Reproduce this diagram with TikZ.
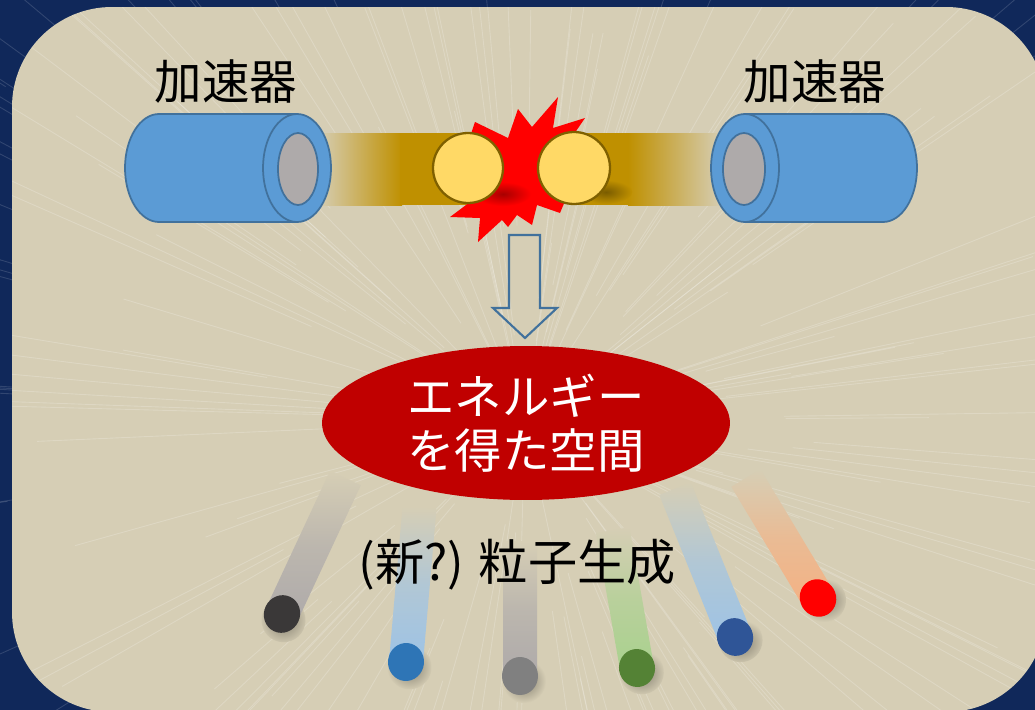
\documentclass[tikz,border=0pt]{standalone}
\usepackage{fontspec}
\setmainfont{Noto Sans CJK JP}
\usetikzlibrary{shapes.geometric}

\definecolor{nightblue}{HTML}{10285A}
\definecolor{deskbeige}{HTML}{D6CEB5}
\definecolor{tubeblue}{HTML}{5B9BD5}
\definecolor{tubeedge}{HTML}{41719C}
\definecolor{boregray}{HTML}{AEAAAA}
\definecolor{beamgold}{HTML}{BF9000}
\definecolor{beamshadow}{HTML}{7A5C00}
\definecolor{ballyellow}{HTML}{FFD966}
\definecolor{balledge}{HTML}{7F6000}
\definecolor{burstred}{HTML}{FF0000}
\definecolor{burstdark}{HTML}{A80000}
\definecolor{spacered}{HTML}{C00000}
\definecolor{trailgray}{HTML}{AEAAAA}
\definecolor{trailblue}{HTML}{9DC3E6}
\definecolor{trailgreen}{HTML}{A9D18E}
\definecolor{trailorange}{HTML}{F4B183}
\definecolor{dotblack}{HTML}{3A3838}
\definecolor{dotblue}{HTML}{2E75B6}
\definecolor{dotgray}{HTML}{808080}
\definecolor{dotgreen}{HTML}{548235}
\definecolor{dotnavy}{HTML}{2F5597}
\definecolor{dotred}{HTML}{FF0000}

\newcommand\bigjp{\fontsize{27}{31}\selectfont}

\tikzset{
	tubeline/.style={draw=tubeedge, line width=1pt},
	ball/.style={fill=ballyellow, draw=balledge, line width=1.3pt},
	streak/.style={white, line width=0.5pt},
	jplabel/.style={font=\bigjp, inner sep=0pt},
}

\begin{document}
\begin{tikzpicture}[x=0.02cm, y=-0.02cm]
	\useasboundingbox (0,0) rectangle (1035,710);
	\fill[nightblue] (0,0) rectangle (1035,710);
	\pgfmathsetseed{41}
	\foreach \i in {1,...,160}{
		\pgfmathsetmacro{\ang}{rnd*360}
		\pgfmathsetmacro{\ra}{400+rnd*250}
		\pgfmathsetmacro{\len}{100+rnd*350}
		\draw[streak, opacity=0.14] (525,420) ++(\ang:\ra) -- ++(\ang:\len);
	}
	% table top
	\fill[deskbeige, rounded corners=2cm] (12,7) rectangle (1046,712);
	\begin{scope}
		\clip[rounded corners=2cm] (12,7) rectangle (1046,712);
		\foreach \i in {1,...,170}{
			\pgfmathsetmacro{\ang}{rnd*360}
			\pgfmathsetmacro{\ra}{40+rnd*250}
			\pgfmathsetmacro{\len}{120+rnd*450}
			\draw[streak, opacity=0.2] (525,420) ++(\ang:\ra) -- ++(\ang:\len);
		}
	\end{scope}

	% beams
	\shade[left color=deskbeige, right color=beamgold] (318,133) rectangle (402,205);
	\fill[beamgold] (400,133) rectangle (470,205);
	\fill[beamgold] (572,133) rectangle (630,205);
	\shade[left color=beamgold, right color=deskbeige] (628,133) rectangle (722,205);
	\shade[inner color=beamshadow, outer color=beamgold] (606,192) ellipse [x radius=26, y radius=12];

	% left accelerator
	\filldraw[fill=tubeblue, tubeline] (159,168) ellipse [x radius=34, y radius=54];
	\fill[tubeblue] (159,114) rectangle (297,222);
	\draw[tubeline] (159,114) -- (297,114) (159,222) -- (297,222);
	\filldraw[fill=tubeblue, tubeline] (297,168) ellipse [x radius=34, y radius=54];
	\filldraw[fill=boregray, tubeline] (298,169) ellipse [x radius=20, y radius=36];

	% right accelerator
	\filldraw[fill=tubeblue, tubeline] (883,168) ellipse [x radius=34, y radius=54];
	\fill[tubeblue] (745,114) rectangle (883,222);
	\draw[tubeline] (745,114) -- (883,114) (745,222) -- (883,222);
	\filldraw[fill=tubeblue, tubeline] (745,168) ellipse [x radius=34, y radius=54];
	\filldraw[fill=boregray, tubeline] (744,169) ellipse [x radius=21, y radius=36];

	% collision
	\fill[burstred] (475,122) -- (508,138) -- (518,109) -- (532,127) -- (558,97) -- (553,128)
		-- (585,118) -- (572,137) -- (578,170) -- (560,213) -- (537,205) -- (532,225) -- (517,215)
		-- (508,227) -- (502,220) -- (478,242) -- (480,218) -- (450,217) -- (470,202) -- (462,160) -- cycle;
	\shade[inner color=burstdark, outer color=burstred] (503,194) ellipse [x radius=28, y radius=12];
	\draw[ball] (468,168) circle [radius=35];
	\draw[ball] (574,168) circle [radius=36];

	\node[jplabel] (accL) at (226,82) {加速器};
	\node[jplabel] (accR) at (815,82) {加速器};

	\draw[draw=tubeedge, line width=1.2pt, line join=miter] (509,235) -- (540,235) -- (540,308) -- (557,308)
		-- (525,338) -- (493,308) -- (509,308) -- cycle;

	% particle tracks
	\foreach \px/\py/\rot/\len/\tc/\dc in {282/614/-25/150/trailgray/dotblack, 406/662/-5/155/trailblue/dotblue,
		520/676/0/135/trailgray/dotgray, 637/668/10/140/trailgreen/dotgreen,
		735/637/22/160/trailblue/dotnavy, 818/598/31/140/trailorange/dotred}{
		\begin{scope}[shift={(\px,\py)}, rotate=\rot]
			\shade[inner color=black!40!deskbeige, outer color=deskbeige] (4,5) circle [radius=22];
			\shade[top color=deskbeige, bottom color=\tc, middle color=\tc!65!deskbeige] (-17,0) rectangle (17,-\len);
			\fill[\dc] (0,0) ellipse [x radius=18, y radius=19];
		\end{scope}
	}

	\node[ellipse, fill=spacered, minimum width=8.16cm, minimum height=3.08cm, inner sep=0pt,
		text=white, font=\bigjp, align=center] (space) at (526,423) {エネルギー\\を得た空間};
	\node[jplabel, font=\fontsize{28}{32}\selectfont] (birth) at (517,565) {(新?) 粒子生成};
\end{tikzpicture}
\end{document}
